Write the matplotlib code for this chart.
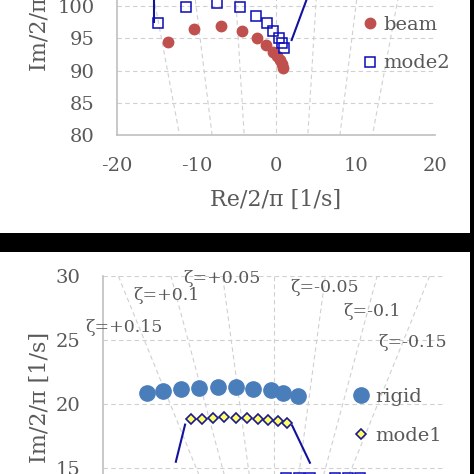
import numpy as np
import matplotlib
matplotlib.use("Agg")
import matplotlib.pyplot as plt
from matplotlib.patches import Rectangle

# top panel (beam / mode2)
beam_re = [-13.55, -10.28, -6.96, -4.24, -2.43, -1.26, -0.34, 0.16, 0.50, 0.79, 0.92]
beam_im = [94.47, 96.48, 96.90, 96.17, 95.09, 93.95, 92.90, 92.25, 91.63, 91.00, 90.43]
mode2_re = [-14.88, -11.36, -7.46, -4.53, -2.55, -1.17, -0.34, 0.38, 0.72, 1.00]
mode2_im = [97.32, 99.89, 100.42, 99.80, 98.45, 97.32, 96.12, 95.09, 94.31, 93.53]
line2a_re = [-15.35, -15.35]
line2a_im = [97.52, 104.0]
line2b_re = [1.97, 4.90]
line2b_im = [94.73, 104.5]

# bottom panel (rigid / mode1)
rigid_re = [-3.72, -3.24, -2.72, -2.18, -1.65, -1.11, -0.61, -0.10, 0.27, 0.71]
rigid_im = [20.84, 21.02, 21.17, 21.27, 21.35, 21.30, 21.20, 21.07, 20.86, 20.63]
mode1_re = [-2.44, -2.11, -1.77, -1.45, -1.11, -0.78, -0.48, -0.17, 0.11, 0.39]
mode1_im = [18.80, 18.85, 18.93, 18.96, 18.93, 18.91, 18.85, 18.77, 18.65, 18.54]
line1a_re = [-2.87, -2.60]
line1a_im = [15.49, 18.39]
line1b_re = [0.53, 1.05]
line1b_im = [18.32, 15.41]
low2_re = [0.35, 0.73, 1.05, 1.78, 2.16, 2.51]
low2_im = [14.25, 14.25, 14.25, 14.25, 14.25, 14.25]

zetas = [0.15, 0.1, 0.05, 0.0, -0.05, -0.1, -0.15]
zeta_labels = ["ζ=+0.15", "ζ=+0.1", "ζ=+0.05", "ζ=-0.05", "ζ=-0.1", "ζ=-0.15"]
zeta_lab_x = [-5.53, -4.12, -2.66, 0.47, 2.02, 3.04]
zeta_lab_y = [25.94, 28.50, 29.84, 29.14, 27.19, 24.84]

TXT = "#595959"
GRID = "#D0D0D0"
SPINE = "#BFBFBF"
plt.rcParams["font.family"] = ["DejaVu Serif"]
plt.rcParams["font.size"] = 14
plt.rcParams["axes.unicode_minus"] = False

W = 474.0
fig = plt.figure(figsize=(4.74, 4.74), dpi=100, facecolor="black")
fig.patches.append(Rectangle((0, 1 - 233 / W), 470 / W, 233 / W, transform=fig.transFigure,
                             facecolor="white", edgecolor="none", zorder=-10))
fig.patches.append(Rectangle((0, 0), 470 / W, (474 - 252) / W, transform=fig.transFigure,
                             facecolor="white", edgecolor="none", zorder=-10))

ax1 = fig.add_axes([117 / W, 1 - 135 / W, 318 / W, 258 / W])
ax2 = fig.add_axes([103 / W, 1 - 532 / W, 342 / W, 256 / W])


def style(ax, xlim, ylim, ystep):
    ax.set_facecolor("none")
    ax.set_xlim(*xlim)
    ax.set_ylim(*ylim)
    ax.set_yticks(np.arange(ylim[0], ylim[1] + 0.1, ystep))
    for s in ["top", "right"]:
        ax.spines[s].set_visible(False)
    for s in ["left", "bottom"]:
        ax.spines[s].set_color(SPINE)
        ax.spines[s].set_linewidth(1.2)
    ax.tick_params(length=0, pad=16, colors=TXT, labelsize=14)
    ax.yaxis.grid(True, color=GRID, linestyle=(0, (4, 3)), linewidth=0.8)
    ax.set_axisbelow(True)
    im = np.array([0, 300])
    for z in zetas:
        re = -z / np.sqrt(1 - z * z) * im
        ax.plot(re, im, color=GRID, linestyle=(0, (4, 3)), linewidth=0.8, zorder=1)


style(ax1, (-20, 20), (80, 120), 5)
ax1.set_xticks([-20, -10, 0, 10, 20])
ax1.plot(line2a_re, line2a_im, color="#12129E", linewidth=1.5, zorder=3)
ax1.plot(line2b_re, line2b_im, color="#12129E", linewidth=1.5, zorder=3)
ax1.plot(beam_re, beam_im, linestyle="none", marker="o", markersize=7.5,
         color="#C0504D", label="beam", zorder=4)
ax1.plot(mode2_re, mode2_im, linestyle="none", marker="s", markersize=6.5,
         markerfacecolor="none", markeredgecolor="#0A0AB8", markeredgewidth=1.1,
         label="mode2", zorder=5)
ax1.set_xlabel("Re/2/π [1/s]", color=TXT, fontsize=16, labelpad=10)
ax1.set_ylabel("Im/2/π [1/s]", color=TXT, fontsize=16)
ax1.yaxis.set_label_coords(-0.207, 0.504)
ax1.legend(loc="upper left", bbox_to_anchor=(362 / W, 1 - 16 / W), bbox_transform=fig.transFigure,
           frameon=False, fontsize=14, labelcolor=TXT, handlelength=0.8,
           handletextpad=0.3, labelspacing=1.05, borderpad=0, borderaxespad=0,
           numpoints=1)

style(ax2, (-5, 5), (10, 30), 5)
ax2.plot(line1a_re, line1a_im, color="#12129E", linewidth=1.5, zorder=3)
ax2.plot(line1b_re, line1b_im, color="#12129E", linewidth=1.5, zorder=3)
ax2.plot(low2_re, low2_im, linestyle="none", marker="s", markersize=6.5,
         markerfacecolor="none", markeredgecolor="#0A0AB8", markeredgewidth=1.1, zorder=5)
ax2.plot(rigid_re, rigid_im, linestyle="none", marker="o", markersize=11,
         color="#4A7EBB", label="rigid", zorder=4)
ax2.plot(mode1_re, mode1_im, linestyle="none", marker="D", markersize=5.5,
         markerfacecolor="#FFFF66", markeredgecolor="#1A1A8C", markeredgewidth=1.2,
         label="mode1", zorder=5)
for lab, x, y in zip(zeta_labels, zeta_lab_x, zeta_lab_y):
    ax2.text(x, y, lab, color=TXT, fontsize=12.5, ha="left", va="center", clip_on=False)
ax2.set_ylabel("Im/2/π [1/s]", color=TXT, fontsize=16)
ax2.yaxis.set_label_coords(-0.152, 0.527)
ax2.legend(loc="upper left", bbox_to_anchor=(352 / W, 1 - 388 / W), bbox_transform=fig.transFigure,
           frameon=False, fontsize=14, labelcolor=TXT, handlelength=0.9,
           handletextpad=0.3, labelspacing=1.08, borderpad=0, borderaxespad=0,
           numpoints=1)

fig.savefig("out.png", dpi=100, facecolor="black")
